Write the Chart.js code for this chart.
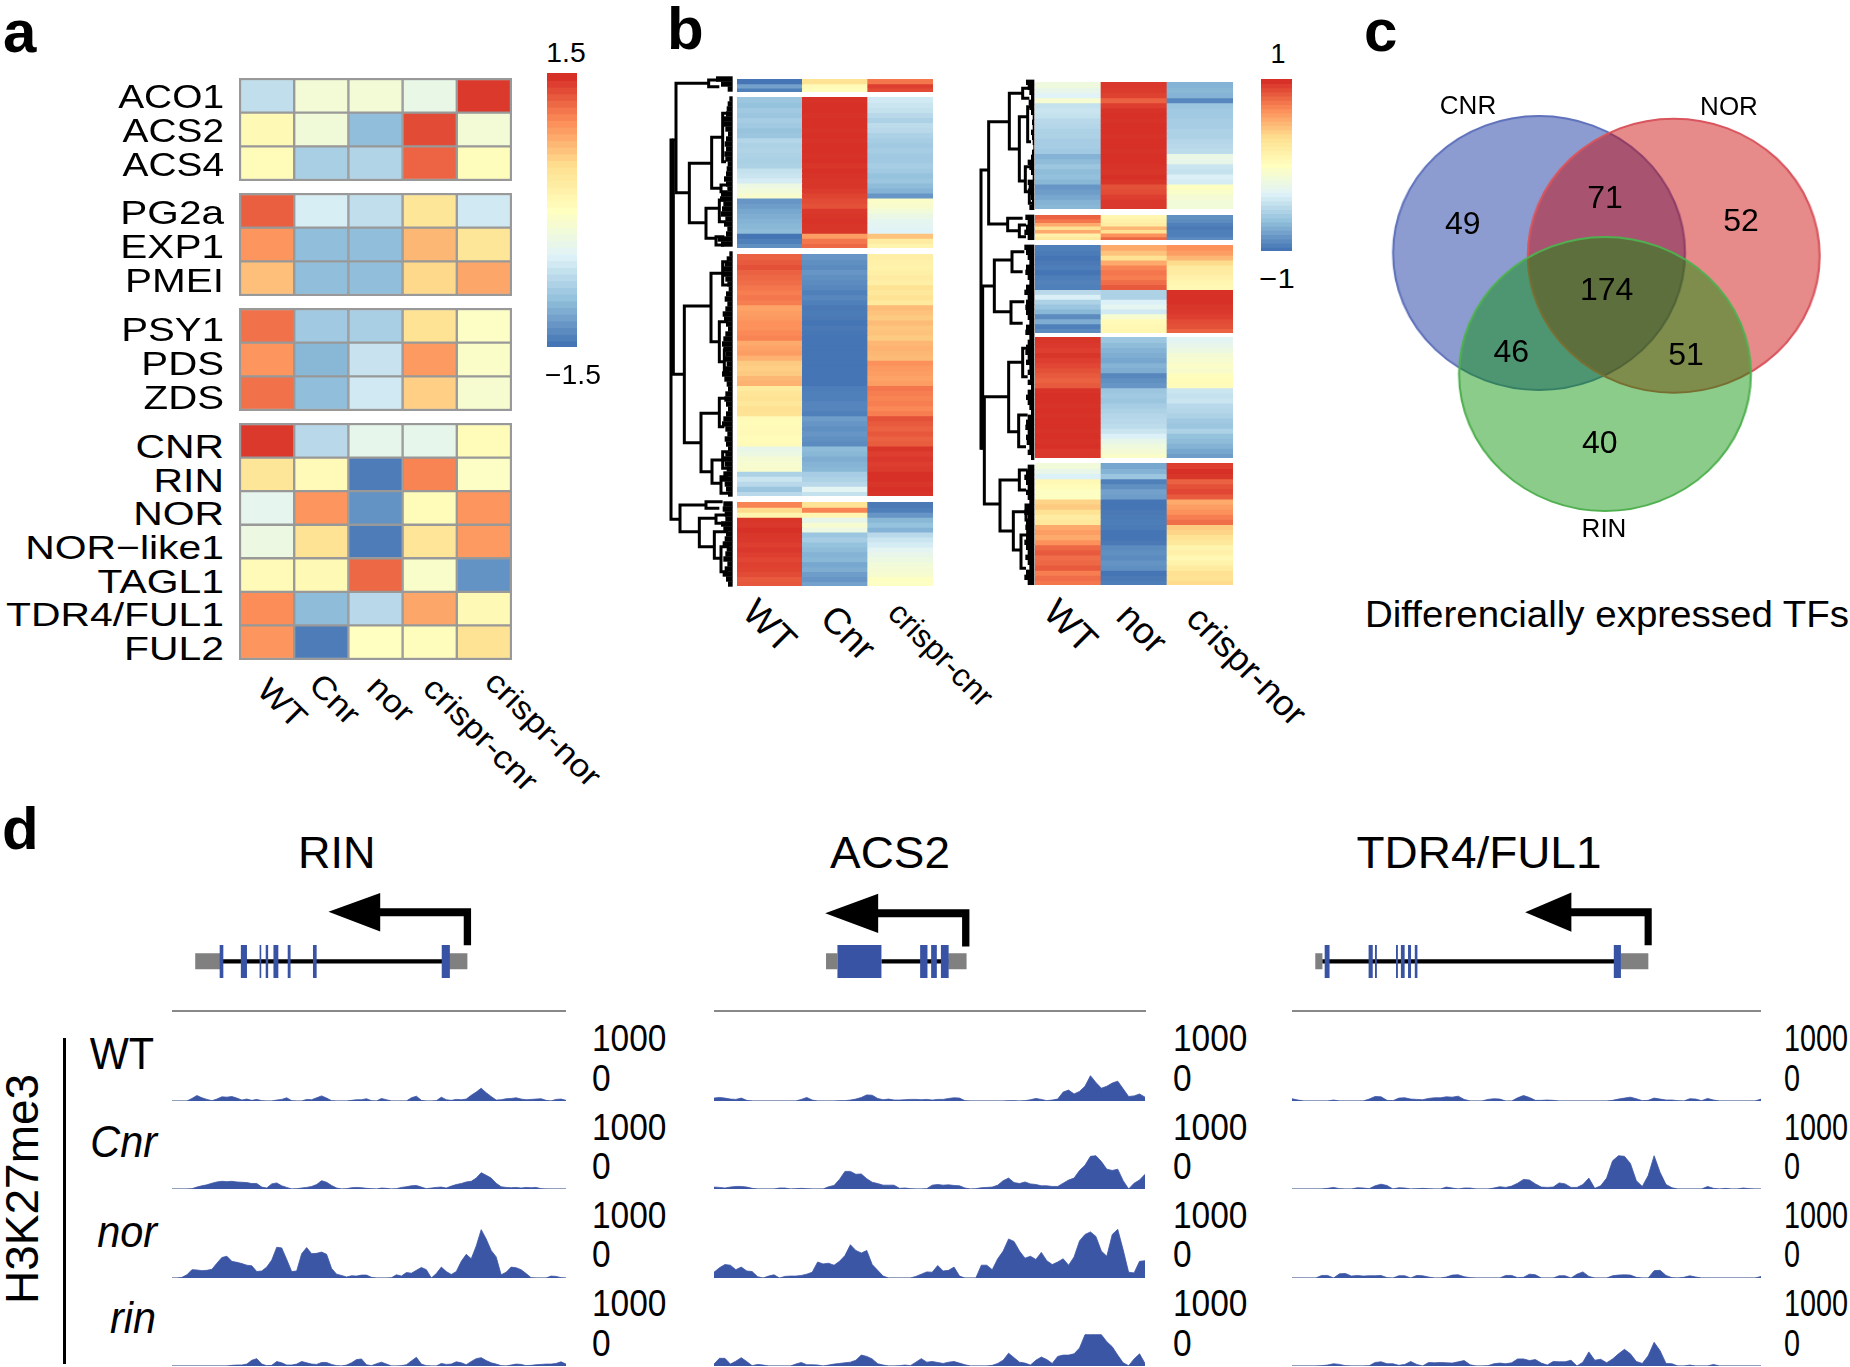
<!DOCTYPE html>
<html>
<head>
<meta charset="utf-8">
<title>Panels a-d</title>
<script src="https://cdn.jsdelivr.net/npm/chart.js@4"></script>
<style>
  html, body { margin: 0; padding: 0; background: #fff; }
  #page { position: relative; width: 1850px; height: 1367px; overflow: hidden; }
  #page canvas { position: absolute; }
  #page span { position: absolute; line-height: 0; white-space: nowrap; color: #000; font-family: "Liberation Sans", sans-serif; transform-origin: 0 0; }
  #page i.rule { position: absolute; display: block; }
</style>
</head>
<body>
<div id="page"></div>
<script>
// colours of the heatmaps, low to high
const rampColors = ["#4575B4", "#91BFDB", "#E0F3F8", "#FFFFBF", "#FEE090", "#FC8D59", "#D73027"];

// panel a
const samplesA = ["WT", "Cnr", "nor", "crispr-cnr", "crispr-nor"];
const ethyleneGenes = ["ACO1", "ACS2", "ACS4"];
const ethyleneValues = [
  [-0.7, -0.2, -0.2, -0.35, 1.45],
  [0.1, -0.22, -1.0, 1.35, -0.2],
  [0.05, -0.85, -0.8, 1.22, 0.03],
];
const wallGenes = ["PG2a", "EXP1", "PMEI"];
const wallValues = [
  [1.25, -0.55, -0.7, 0.4, -0.6],
  [0.95, -1.0, -1.0, 0.75, 0.4],
  [0.7, -1.0, -1.0, 0.55, 0.85],
];
const carotenoidGenes = ["PSY1", "PDS", "ZDS"];
const carotenoidValues = [
  [1.15, -0.9, -0.85, 0.45, -0.05],
  [0.95, -1.05, -0.65, 0.92, -0.08],
  [1.15, -1.0, -0.6, 0.6, -0.15],
];
const regulatorGenes = ["CNR", "RIN", "NOR", "NOR\u2212like1", "TAGL1", "TDR4/FUL1", "FUL2"];
const regulatorValues = [
  [1.45, -0.75, -0.38, -0.38, 0.05],
  [0.4, 0.08, -1.45, 1.05, -0.05],
  [-0.4, 0.95, -1.3, 0.05, 0.95],
  [-0.3, 0.45, -1.45, 0.42, 0.92],
  [0.08, 0.1, 1.2, -0.1, -1.3],
  [1.0, -1.02, -0.75, 0.85, 0.1],
  [0.95, -1.45, -0.02, 0.03, 0.45],
];
const legendSteps = [1, 0.95, 0.9, 0.85, 0.8, 0.75, 0.7, 0.65, 0.6, 0.55, 0.5, 0.45, 0.4, 0.35, 0.3, 0.25, 0.2, 0.15, 0.1, 0.05, 0,
  -0.05, -0.1, -0.15, -0.2, -0.25, -0.3, -0.35, -0.4, -0.45, -0.5, -0.55, -0.6, -0.65, -0.7, -0.75, -0.8, -0.85, -0.9, -0.95, -1];

// panel b, left heatmap
const samplesCnr = ["WT", "Cnr", "crispr-cnr"];
const c1WT = [-1, -0.8, -0.95];
const c1Cnr = [0.3, 0.05, 0.02];
const c1Cr = [0.75, 0.95, 0.9];
const c2WT = [-0.62, -0.65, -0.6, -0.62, -0.58, -0.6, -0.64, -0.62, -0.52, -0.55, -0.53, -0.55, -0.56, -0.55, -0.45, -0.42, -0.38, -0.2, -0.15, -0.08, -0.85, -0.82, -0.78, -0.75, -0.72, -0.7, -0.68, -1, -0.95, -0.88];
const c2Cnr = [0.99, 1, 1, 0.99, 1, 1, 0.99, 1, 0.99, 1, 1, 0.99, 1, 0.98, 1, 0.99, 0.98, 0.98, 0.96, 0.93, 0.9, 0.88, 0.97, 0.98, 0.99, 0.98, 0.98, 0.6, 0.75, 0.8];
const c2Cr = [-0.4, -0.42, -0.45, -0.5, -0.55, -0.48, -0.5, -0.55, -0.58, -0.6, -0.58, -0.6, -0.6, -0.58, -0.6, -0.65, -0.62, -0.68, -0.72, -0.85, -0.05, -0.08, -0.15, -0.22, -0.28, -0.3, -0.33, 0.45, 0.2, 0.12];
const c3WT = [0.82, 0.85, 0.88, 0.82, 0.8, 0.78, 0.75, 0.72, 0.75, 0.72, 0.58, 0.6, 0.62, 0.65, 0.65, 0.68, 0.7, 0.55, 0.58, 0.6, 0.52, 0.42, 0.4, 0.42, 0.5, 0.52, 0.22, 0.28, 0.3, 0.25, 0.32, 0.3, 0.05, 0.04, 0.05, 0.06, 0.04, 0.05, -0.25, -0.2, -0.12, -0.1, -0.08, -0.55, -0.42, -0.5, -0.62, -0.5];
const c3Cnr = [-0.85, -0.88, -0.9, -0.85, -0.88, -0.9, -0.92, -0.95, -0.92, -0.95, -0.98, -0.97, -0.98, -1, -0.98, -0.99, -1, -1, -1, -1, -1, -1, -1, -1, -1, -1, -0.96, -0.95, -0.95, -0.93, -0.93, -0.95, -0.82, -0.85, -0.88, -0.85, -0.88, -0.9, -0.68, -0.7, -0.75, -0.72, -0.7, -0.58, -0.55, -0.5, -0.3, -0.45];
const c3Cr = [0.18, 0.15, 0.14, 0.16, 0.2, 0.18, 0.3, 0.25, 0.3, 0.24, 0.48, 0.45, 0.42, 0.48, 0.44, 0.45, 0.42, 0.5, 0.52, 0.5, 0.48, 0.65, 0.62, 0.6, 0.58, 0.6, 0.75, 0.72, 0.7, 0.72, 0.68, 0.72, 0.88, 0.85, 0.82, 0.86, 0.82, 0.84, 0.98, 0.95, 0.97, 0.95, 0.96, 1, 1, 0.98, 1, 0.99];
const c4WT = [0.7, 0.35, 0.12, 0.98, 0.97, 1, 0.98, 0.97, 0.95, 0.97, 0.95, 0.92, 0.94, 0.93, 0.9, 0.85, 0.86];
const c4Cnr = [0.3, 0.7, 0.1, -0.25, -0.1, -0.2, -0.62, -0.58, -0.65, -0.68, -0.72, -0.7, -0.78, -0.75, -0.82, -0.85, -0.8];
const c4Cr = [-0.98, -0.95, -0.85, -0.7, -0.65, -0.72, -0.5, -0.42, -0.38, -0.3, -0.25, -0.2, -0.15, -0.12, -0.1, -0.02, -0.03];

// panel b, right heatmap
const samplesNor = ["WT", "nor", "crispr-nor"];
const n1WT = [-0.18, -0.25, -0.32, -0.1, -0.45, -0.42, -0.45, -0.5, -0.52, -0.55, -0.55, -0.58, -0.58, -0.6, -0.72, -0.68, -0.62, -0.68, -0.66, -0.7, -0.85, -0.82, -0.78, -0.72, -0.7];
const n1Nor = [0.97, 0.96, 0.94, 0.82, 0.95, 0.99, 1, 0.99, 1, 1, 0.99, 1, 1, 0.99, 1, 1, 0.99, 0.98, 1, 0.98, 0.88, 0.9, 0.95, 0.97, 0.97];
const n1Cr = [-0.72, -0.7, -0.72, -0.92, -0.62, -0.6, -0.6, -0.58, -0.58, -0.55, -0.55, -0.52, -0.5, -0.48, -0.22, -0.25, -0.42, -0.45, -0.35, -0.38, -0.02, -0.06, -0.12, -0.15, -0.15];
const n2WT = [0.82, 0.75, 0.55, 0.32, 0.55, 0.15, 0.25];
const n2Nor = [0.1, 0.15, 0.2, 0.5, 0.3, 0.65, 0.8];
const n2Cr = [-0.88, -0.9, -0.95, -0.98, -0.95, -0.95, -0.9];
const n3WT = [-0.95, -0.97, -1, -0.98, -0.96, -1, -0.96, -0.94, -0.95, -0.5, -0.36, -0.55, -0.62, -0.7, -0.9, -0.75, -0.95, -0.9];
const n3Nor = [0.55, 0.45, 0.3, 0.55, 0.7, 0.75, 0.72, 0.78, 0.85, -0.55, -0.55, -0.35, -0.28, -0.4, -0.1, 0.05, 0.08, 0.1];
const n3Cr = [0.65, 0.6, 0.5, 0.35, 0.22, 0.2, 0.15, 0.1, 0.08, 1, 1, 1, 0.98, 0.97, 0.95, 0.9, 0.88, 0.82];
const n4WT = [0.98, 0.97, 0.95, 0.98, 0.95, 0.92, 0.88, 0.85, 0.82, 0.85, 0.99, 1, 1, 0.99, 1, 0.99, 1, 1, 0.99, 1, 0.99, 1, 0.97, 0.97];
const n4Nor = [-0.62, -0.68, -0.72, -0.75, -0.78, -0.72, -0.75, -0.92, -0.88, -0.85, -0.62, -0.6, -0.62, -0.58, -0.55, -0.52, -0.5, -0.48, -0.42, -0.35, -0.25, -0.18, -0.12, -0.05];
const n4Cr = [-0.3, -0.25, -0.2, -0.12, -0.1, -0.05, -0.08, 0.02, 0.04, 0.03, -0.42, -0.45, -0.42, -0.5, -0.52, -0.55, -0.6, -0.62, -0.55, -0.65, -0.68, -0.72, -0.78, -0.82];
const n5WT = [-0.15, -0.25, -0.35, 0.08, 0.04, -0.02, -0.02, 0.38, 0.42, 0.3, 0.2, 0.25, 0.55, 0.6, 0.55, 0.65, 0.8, 0.85, 0.78, 0.8, 0.85, 0.72, 0.78, 0.75];
const n5Nor = [-0.78, -0.72, -0.62, -0.95, -0.88, -0.8, -0.82, -1, -1, -0.98, -0.97, -0.96, -0.97, -1, -1, -0.98, -0.9, -0.88, -0.9, -0.86, -0.88, -1, -0.98, -0.96];
const n5Cr = [0.95, 1, 0.98, 0.82, 0.88, 0.92, 0.85, 0.55, 0.6, 0.65, 0.72, 0.78, 0.42, 0.38, 0.3, 0.25, 0.12, 0.15, 0.08, 0.14, 0.22, 0.32, 0.3, 0.35];

// dendrograms: [parent height, y of first child, height of first child, y of second child, height of second child]
const treeCnr = [
  [15, 195, 22, 1333, 42], [22, 195, 30, 898, 55], [30, 25, 128, 353, 70], [128, 15, 165, 35, 160],
  [70, 265, 137, 443, 120], [137, 187, 170, 340, 165], [170, 115, 185, 260, 180], [165, 330, 185, 350, 185],
  [120, 400, 160, 490, 150], [160, 375, 180, 440, 180], [150, 485, 175, 510, 175],
  [55, 693, 135, 1103, 105], [135, 595, 170, 800, 160], [170, 560, 188, 630, 188], [160, 740, 185, 860, 175],
  [175, 825, 190, 890, 190], [105, 1015, 160, 1190, 138], [160, 970, 180, 1055, 175], [138, 1155, 170, 1225, 165],
  [170, 1130, 188, 1180, 188], [165, 1205, 185, 1255, 188],
  [42, 1290, 120, 1370, 100], [120, 1280, 170, 1300, 160], [100, 1330, 150, 1415, 145], [150, 1320, 180, 1345, 180],
  [145, 1370, 185, 1450, 165], [165, 1415, 190, 1490, 185],
];
const leavesCnr = [150, 165, 185, 200,
  190, 185, 182, 180, 170, 172, 178, 186, 180, 176, 180, 175, 178, 185, 182, 180, 174, 180, 184, 165, 162, 172, 168, 165, 178, 174, 184, 180, 155, 165, 200,
  190, 182, 176, 170, 172, 178, 184, 188, 180, 176, 184, 178, 170, 174, 180, 186, 178, 172, 168, 172, 180, 176, 182, 172, 168, 175, 182, 186, 178, 175, 180, 186, 180, 172, 168, 178, 184, 176, 180, 186, 178, 170, 176, 182, 172, 168, 176, 180, 186, 200,
  172, 170, 176, 178, 165, 172, 180, 176, 170, 182, 178, 172, 184, 176, 170, 180, 186];
const treeNor = [
  [15, 285, 38, 1120, 20], [38, 140, 100, 447, 95], [100, 55, 140, 222, 130], [140, 40, 160, 70, 160],
  [130, 125, 155, 318, 148], [155, 95, 168, 200, 165], [148, 275, 165, 350, 160], [160, 345, 170, 385, 170],
  [95, 430, 140, 467, 130], [130, 450, 150, 485, 150],
  [20, 633, 55, 1120, 25], [55, 555, 108, 710, 105], [108, 530, 145, 590, 140], [105, 680, 145, 745, 140],
  [25, 965, 98, 1287, 72], [98, 862, 140, 1070, 128], [140, 820, 155, 905, 155], [128, 1020, 155, 1115, 150],
  [72, 1215, 130, 1368, 112], [130, 1185, 155, 1245, 150], [112, 1310, 150, 1425, 135],
  [135, 1380, 155, 1480, 150], [150, 1290, 165, 1335, 165], [155, 1360, 168, 1405, 168],
];
const leavesNor = [150, 155, 160, 165, 158, 160, 165, 170, 168, 170, 165, 168, 170, 172, 168, 165, 155, 160, 165, 170, 155, 158, 162, 165, 168, 160, 175,
  148, 155, 150, 145, 155, 175,
  145, 150, 155, 160, 150, 148, 155, 160, 150, 145, 155, 150, 148, 150, 155, 160, 150, 148,
  160, 155, 150, 148, 155, 150, 160, 155, 162, 155, 165, 155, 150, 155, 160, 165, 155, 150, 148, 155, 150, 152, 160, 155, 165, 175,
  155, 150, 145, 150, 155, 150, 155, 160, 150, 145, 155, 150, 148, 155, 150, 145, 150, 155, 148, 155, 160, 150, 145, 155];

// panel c
const vennSets = ["CNR", "NOR", "RIN"];
const vennX = [1539, 1673.7, 1605];
const vennY = [253, 255.7, 374];
const vennCounts = ["49", "71", "52", "174", "46", "51", "40"];

// panel d, gene models: positions along each window
const rinUtr = [[478, 540], [1100, 1146]];
const rinIntron = [540, 1085];
const rinExons = [[538, 547], [590, 605], [636, 640], [651, 657], [670, 682], [705, 712], [767, 776], [1083, 1103]];
const rinArrow = [[1155, 402], [1137, 402], [1137, 322], [932, 322], [932, 364], [805, 310], [932, 258], [932, 300], [1155, 300]];
const acs2Utr = [[457, 485], [757, 802]];
const acs2Intron = [593, 757];
const acs2Exons = [[485, 593], [688, 706], [715, 729], [739, 758]];
const acs2Arrow = [[809, 405], [791, 405], [791, 325], [585, 325], [585, 368], [455, 314], [585, 260], [585, 303], [809, 303]];
const tdrUtr = [[146, 165], [960, 1033]];
const tdrIntron = [165, 945];
const tdrExons = [[171, 184], [288, 299], [305, 310], [361, 366], [374, 384], [393, 401], [411, 418], [941, 960]];
const tdrArrow = [[1042, 402], [1023, 402], [1023, 322], [828, 322], [828, 365], [705, 311], [828, 257], [828, 300], [1042, 300]];

// panel d, H3K27me3 tracks, 80 bins per window
const trackTicks = ["1000", "0"];
const trackSamples = ["WT", "Cnr", "nor", "rin"];
const rinTrackWT = [0,0,0,0,40,85,50,25,5,30, 65,60,70,45,15,30,10,25,5,0, 0,15,25,50,5,0,0,25,20,50, 80,45,5,0,0,0,10,20,20,35, 5,0,40,20,0,0,0,0,50,75, 10,0,0,5,60,20,10,25,20,30, 90,140,200,130,70,15,20,35,40,50, 30,20,25,30,35,10,0,25,30,10];
const rinTrackCnr = [0,0,0,0,5,30,50,65,90,110, 120,115,120,110,105,100,85,85,30,15, 80,95,50,25,0,5,15,25,40,70, 130,105,55,15,0,5,20,25,20,10, 5,0,15,10,0,5,25,35,50,55, 30,5,15,25,30,15,45,70,85,110, 120,170,255,215,170,90,35,25,20,25, 15,25,20,25,5,0,0,0,0,0];
const rinTrackNor = [0,0,10,50,130,125,115,120,135,230, 320,340,260,245,225,200,190,100,110,170, 280,480,470,290,100,110,380,475,380,385, 405,370,150,60,40,15,35,30,45,45, 10,0,0,0,5,50,30,85,75,120, 165,130,0,70,170,100,55,100,260,370, 300,500,755,610,430,330,50,90,170,160, 130,70,5,0,0,0,30,25,5,0];
const rinTrackRin = [0,0,0,0,0,0,0,0,0,0, 0,0,10,15,15,30,90,115,30,5, 10,70,50,15,15,30,70,50,30,25, 55,55,25,5,0,15,50,100,110,20, 5,35,60,30,0,0,5,20,80,135, 30,5,0,0,40,25,30,65,50,20, 70,115,130,85,50,30,5,0,15,30, 25,5,10,20,25,30,30,40,65,30];
const acs2TrackWT = [45,55,45,30,25,45,10,0,0,0, 0,0,0,0,0,0,25,55,15,0, 0,0,0,5,5,15,30,55,95,90, 40,20,30,15,15,20,25,25,20,25, 15,25,25,40,50,45,5,0,0,0, 0,0,0,0,5,5,0,5,20,40, 25,5,15,30,140,170,110,150,230,395, 290,200,230,280,310,190,70,80,110,60];
const acs2TrackCnr = [30,25,15,30,40,40,30,10,0,0, 0,0,15,15,0,5,10,5,0,0, 0,35,55,150,275,275,230,235,160,105, 85,60,60,60,10,15,5,0,0,5, 60,70,60,65,55,50,15,0,5,20, 25,30,60,130,170,100,85,110,80,70, 50,50,40,40,90,140,170,290,370,510, 520,430,310,290,310,130,0,90,140,230];
const acs2TrackNor = [90,160,210,200,130,170,110,100,20,0, 30,50,0,25,30,30,40,60,90,250, 220,230,200,260,350,520,430,390,430,210, 120,30,0,0,0,0,0,25,60,95, 90,195,110,120,170,30,0,0,0,200, 200,130,300,420,610,570,420,310,340,290, 400,270,210,250,300,200,330,580,680,720, 650,420,340,680,760,440,90,80,260,270];
const acs2TrackRin = [30,120,120,30,75,130,70,5,25,15, 0,0,0,0,0,30,55,20,20,15, 0,15,30,40,50,60,90,170,150,110, 35,15,0,0,5,15,5,60,115,60, 70,55,40,60,70,45,20,0,0,0, 0,10,40,90,200,130,60,45,15,90, 140,100,40,150,170,170,190,280,490,490, 490,490,380,300,170,50,5,110,190,40];
const tdrTrackWT = [35,15,0,0,0,0,0,15,0,0, 0,0,0,30,70,65,10,5,45,50, 30,25,20,40,50,50,65,60,75,25, 0,0,0,25,35,30,0,0,50,85, 55,10,10,15,10,0,0,0,0,0, 0,0,0,0,10,30,45,60,35,5, 10,45,30,15,15,5,0,35,30,5, 40,15,0,0,0,0,0,0,0,30];
const tdrTrackCnr = [0,0,0,0,0,0,10,25,5,0, 0,20,15,5,50,75,55,0,20,15, 0,5,10,5,0,0,30,15,0,15, 15,0,0,0,15,35,25,45,90,150, 140,80,30,25,30,95,80,25,25,70, 170,10,50,170,440,520,510,400,130,40, 210,520,260,70,20,0,0,0,0,0, 40,10,0,10,0,0,15,5,0,0];
const tdrTrackNor = [0,0,0,0,0,40,40,0,65,70, 30,40,30,35,35,40,5,0,35,35, 0,40,35,15,0,0,15,45,50,20, 5,0,0,0,0,0,40,40,5,10, 60,50,0,0,0,35,35,0,60,95, 25,0,0,0,35,45,50,45,10,0, 0,115,120,40,5,0,10,35,15,0, 0,0,0,0,0,0,0,0,0,25];
const tdrTrackRin = [0,0,0,0,0,5,15,35,25,5, 0,0,0,5,55,65,35,35,10,25, 70,25,0,55,50,55,50,45,65,85, 20,0,0,5,35,45,35,50,110,110, 85,100,45,15,70,65,65,90,0,60, 220,90,105,50,110,190,260,190,70,40, 160,370,240,40,35,0,0,15,0,0, 0,25,0,0,0,0,0,0,0,0];

Chart.defaults.responsive = false;
Chart.defaults.animation = false;
Chart.defaults.devicePixelRatio = 1;
Chart.defaults.plugins.legend.display = false;
Chart.defaults.plugins.tooltip.enabled = false;
Chart.defaults.events = [];

const page = document.getElementById("page");

function newCanvas(left, top, width, height) {
  const c = document.createElement("canvas");
  c.width = width;
  c.height = height;
  c.style.left = left + "px";
  c.style.top = top + "px";
  page.appendChild(c);
  return c;
}

// y is the middle of the capitals
function txt(text, x, y, o) {
  o = o || {};
  const s = document.createElement("span");
  s.textContent = text;
  s.style.left = x + "px";
  s.style.top = y + "px";
  s.style.fontSize = (o.size || 30) + "px";
  if (o.bold) s.style.fontWeight = "bold";
  if (o.italic) s.style.fontStyle = "italic";
  const shift = o.align === "right" ? -100 : o.align === "center" ? -50 : 0;
  s.style.transform = "rotate(" + (o.rot || 0) + "deg) scaleX(" + (o.sx || 1) + ") translateX(" + shift + "%)";
  page.appendChild(s);
}

function rampColor(v) {
  const t = Math.min(6, Math.max(0, (v + 1) * 3));
  const i = Math.min(5, Math.floor(t));
  const a = rampColors[i], b = rampColors[i + 1];
  const mix = (p) => Math.round(parseInt(a.substr(p, 2), 16) * (i + 1 - t) + parseInt(b.substr(p, 2), 16) * (t - i));
  return "rgb(" + mix(1) + "," + mix(3) + "," + mix(5) + ")";
}

// rows of cells as floating bars, one dataset per row
function heat(left, top, right, bottom, labels, rows, range, border) {
  const w = border ? 0 : 0.12;
  const canvas = newCanvas(left, top, right - left, bottom - top);
  if (border) canvas.style.outline = "1px solid " + border;
  return new Chart(canvas, {
    type: "bar",
    data: {
      labels: labels,
      datasets: rows.map((row, r) => ({
        grouped: false,
        data: row.map(() => [r, r + 1 + w]),
        backgroundColor: row.map((v) => rampColor(v / range)),
        borderColor: border || "transparent",
        borderWidth: border ? 1.5 : 0,
        borderSkipped: false,
        barPercentage: 1,
        categoryPercentage: 1,
      })),
    },
    options: {
      scales: {
        x: { display: false },
        y: { display: false, min: 0, max: rows.length, reverse: true },
      },
    },
  });
}

function byColumn(cols) {
  return cols[0].map((_, r) => cols.map((c) => c[r]));
}

// --- panel a ---
txt("a", 3, 32, { size: 60, bold: true });
function blockA(top, bottom, genes, values, nudge, stretch) {
  const c = heat(239.5, top, 511, bottom, samplesA, values, 1.5, "#999");
  genes.forEach((g, r) => {
    txt(g, 224, top + nudge + c.scales.y.getPixelForValue(r + 0.5), { size: 33.5, sx: stretch, align: "right" });
  });
  return c;
}
blockA(79, 180, ethyleneGenes, ethyleneValues, 1.5, 1.16);
blockA(194, 295, wallGenes, wallValues, 2.5, 1.21);
blockA(309, 410, carotenoidGenes, carotenoidValues, 4.5, 1.2);
const lastA = blockA(423.5, 659, regulatorGenes, regulatorValues, 7, 1.22);
samplesA.forEach((s, i) => {
  txt(s, 239.5 + lastA.scales.x.getPixelForValue(i) + [-4, -6, -2, 0, 8][i], 688 + [-4, -9, -7, -6, -12][i], { size: 32, sx: 1.1, rot: 45 });
});
heat(547, 73, 577.5, 347, [""], legendSteps.map((v) => [v]), 1);
txt("1.5", 566, 52.5, { size: 27, sx: 1.05, align: "center" });
txt("\u22121.5", 572.5, 375, { size: 27, sx: 1.05, align: "center" });

// --- panel b ---
txt("b", 667, 29, { size: 60, bold: true });
const cnrL = 737, cnrR = 933.7;
heat(cnrL, 79, cnrR, 92.3, samplesCnr, byColumn([c1WT, c1Cnr, c1Cr]), 1);
heat(cnrL, 97.3, cnrR, 249, samplesCnr, byColumn([c2WT, c2Cnr, c2Cr]), 1);
heat(cnrL, 254.3, cnrR, 496.7, samplesCnr, byColumn([c3WT, c3Cnr, c3Cr]), 1);
const lastCnr = heat(cnrL, 501.7, cnrR, 586, samplesCnr, byColumn([c4WT, c4Cnr, c4Cr]), 1);
const norL = 1034.7, norR = 1233;
heat(norL, 82.3, norR, 210, samplesNor, byColumn([n1WT, n1Nor, n1Cr]), 1);
heat(norL, 214.7, norR, 240, samplesNor, byColumn([n2WT, n2Nor, n2Cr]), 1);
heat(norL, 244.7, norR, 333, samplesNor, byColumn([n3WT, n3Nor, n3Cr]), 1);
heat(norL, 337.3, norR, 458.7, samplesNor, byColumn([n4WT, n4Nor, n4Cr]), 1);
const lastNor = heat(norL, 463.3, norR, 586, samplesNor, byColumn([n5WT, n5Nor, n5Cr]), 1);
samplesCnr.forEach((s, i) => {
  txt(s, cnrL + lastCnr.scales.x.getPixelForValue(i) + [-21, -8, -6][i], 606 + [0, 6, 1][i], { size: [37, 37, 32][i], rot: 45 });
});
samplesNor.forEach((s, i) => {
  txt(s, norL + lastNor.scales.x.getPixelForValue(i) + [-18, -11, -7][i], 606 + [0, 4, 6][i], { size: [37, 37, 36][i], rot: 45 });
});
heat(1261.4, 79, 1292.6, 251, [""], legendSteps.map((v) => [v]), 1);
txt("1", 1278, 54, { size: 27, align: "center" });
txt("\u22121", 1277, 279, { size: 27, sx: 1.15, align: "center" });

function tree(left, top, width, height, maxX, links, leaves, leafEnd, firstLeaf) {
  const sets = links.map((l) => ({
    data: [{ x: l[2], y: l[1] }, { x: l[0], y: l[1] }, { x: l[0], y: l[3] }, { x: l[4], y: l[3] }],
    borderWidth: 3,
  }));
  leaves.forEach((x, k) => {
    sets.push({
      data: [{ x: x, y: firstLeaf + 15 * k }, { x: leafEnd, y: firstLeaf + 15 * k }],
      borderWidth: 5.4,
    });
  });
  sets.forEach((d) => {
    d.showLine = true;
    d.borderColor = "#000";
    d.pointRadius = 0;
  });
  new Chart(newCanvas(left, top, width, height), {
    type: "scatter",
    data: { datasets: sets },
    options: {
      scales: {
        x: { display: false, min: 0, max: maxX },
        y: { display: false, min: 0, max: 1545, reverse: true },
      },
    },
  });
}
tree(666, 75, 67, 515, 201, treeCnr, leavesCnr, 200, 12);
tree(976, 75, 59, 515, 177, treeNor, leavesNor, 175, 22);

// --- panel c ---
txt("c", 1364, 31, { size: 60, bold: true });
const vennCanvas = newCanvas(1380, 100, 420, 420);
vennCanvas.style.transformOrigin = "0 0";
vennCanvas.style.transform = "scaleX(1.065)";
new Chart(vennCanvas, {
  type: "scatter",
  data: {
    datasets: [{
      data: vennX.map((x, i) => ({ x: x, y: vennY[i] })),
      pointRadius: 137,
      backgroundColor: ["rgba(5,38,153,.46)", "rgba(200,0,0,.46)", "rgba(5,144,0,.46)"],
      borderColor: ["#5f72bb", "#d9545c", "#50b050"],
      borderWidth: 2,
    }],
  },
  options: {
    // big points must not shrink the plot area
    layout: { autoPadding: false },
    scales: {
      x: { display: false, min: 1380, max: 1827.3 },
      y: { display: false, min: 100, max: 520, reverse: true },
    },
  },
});
[[1468, 105], [1729, 105.5], [1604, 528]].forEach((p, i) => {
  txt(vennSets[i], p[0], p[1], { size: 26, align: "center" });
});
[[1462.7, 223], [1605, 197.4], [1741, 220], [1606.7, 288.7], [1511.3, 351.4], [1686, 354.4], [1599.7, 442]].forEach((p, i) => {
  txt(vennCounts[i], p[0], p[1], { size: 32, align: "center" });
});
txt("Differencially expressed TFs", 1365, 614.5, { size: 37, sx: 1.04 });

// --- panel d ---
txt("d", 2, 829, { size: 60, bold: true });

function polygon(points, color) {
  return {
    data: points.map((p) => ({ x: p[0], y: p[1] })),
    showLine: true,
    fill: "shape",
    backgroundColor: color,
    borderWidth: 0,
    pointRadius: 0,
  };
}
function box(x0, x1, y0, y1, color) {
  return polygon([[x0, y0], [x1, y0], [x1, y1], [x0, y1]], color);
}

function geneModel(left, right, minX, maxX, utr, intron, exons, arrow) {
  const sets = [];
  // the library paints the first dataset last
  exons.forEach((e) => sets.push(box(e[0], e[1], 401, 492, "#3953a4")));
  sets.push(polygon(arrow, "#000"));
  sets.push(box(intron[0], intron[1], 440, 452, "#000"));
  utr.forEach((u) => sets.push(box(u[0], u[1], 424, 468, "#808080")));
  new Chart(newCanvas(left, 890, right - left, 91), {
    type: "scatter",
    data: { datasets: sets },
    options: {
      scales: {
        x: { display: false, min: minX, max: maxX },
        y: { display: false, min: 250, max: 500, reverse: true },
      },
    },
  });
}

function track(left, right, baseline, values) {
  new Chart(newCanvas(left, baseline - 62, right - left, 64), {
    type: "line",
    data: {
      labels: values.map((_, i) => i),
      datasets: [{
        data: values,
        fill: "origin",
        backgroundColor: "#3c56a6",
        borderColor: "#3c56a6",
        borderWidth: 0.8,
        pointRadius: 0,
      }],
    },
    options: {
      scales: {
        x: { grid: { display: false, drawTicks: false }, ticks: { display: false }, border: { color: "#ccc", width: 2 } },
        y: { display: false, min: 0, max: 1000 },
      },
    },
  });
}

const baselines = [1098.7, 1187, 1275.6, 1364.2];
const tickTops = [1039, 1127.5, 1215.5, 1304];
const tickZeros = [1078.5, 1166.5, 1254.5, 1343.5];

function locus(name, nameX, nameSx, left, right, tickX, tickSx, tracks) {
  txt(name, nameX, 852.5, { size: 45, sx: nameSx, align: "center" });
  const line = document.createElement("i");
  line.className = "rule";
  line.style.cssText = "left:" + left + "px;top:1010px;width:" + (right - left) + "px;height:1.5px;background:#888";
  page.appendChild(line);
  tracks.forEach((values, i) => {
    track(left, right, baselines[i], values);
    txt(trackTicks[0], tickX, tickTops[i], { size: 36, sx: tickSx });
    txt(trackTicks[1], tickX, tickZeros[i], { size: 36, sx: tickSx });
  });
}

locus("RIN", 336.7, 1, 171.8, 566.5, 592, 0.93, [rinTrackWT, rinTrackCnr, rinTrackNor, rinTrackRin]);
locus("ACS2", 890.4, 1.02, 714.3, 1146, 1172.6, 0.93, [acs2TrackWT, acs2TrackCnr, acs2TrackNor, acs2TrackRin]);
locus("TDR4/FUL1", 1479, 1.02, 1291.6, 1761.5, 1783.7, 0.8, [tdrTrackWT, tdrTrackCnr, tdrTrackNor, tdrTrackRin]);
geneModel(171.8, 566.5, 421, 1388, rinUtr, rinIntron, rinExons, rinArrow);
geneModel(714.3, 1146, 182, 1240, acs2Utr, acs2Intron, acs2Exons, acs2Arrow);
geneModel(1291.6, 1761.5, 84, 1333, tdrUtr, tdrIntron, tdrExons, tdrArrow);

txt("H3K27me3", 22, 1304, { size: 46, sx: 1, rot: -90 });
const bar = document.createElement("i");
bar.className = "rule";
bar.style.cssText = "left:63px;top:1038px;width:3px;height:326px;background:#000";
page.appendChild(bar);
[[154, 1054], [157, 1142], [157, 1231.5], [156, 1317.5]].forEach((p, i) => {
  txt(trackSamples[i], p[0], p[1], { size: 45, sx: 0.92, align: "right", italic: i > 0 });
});
</script>
</body>
</html>
